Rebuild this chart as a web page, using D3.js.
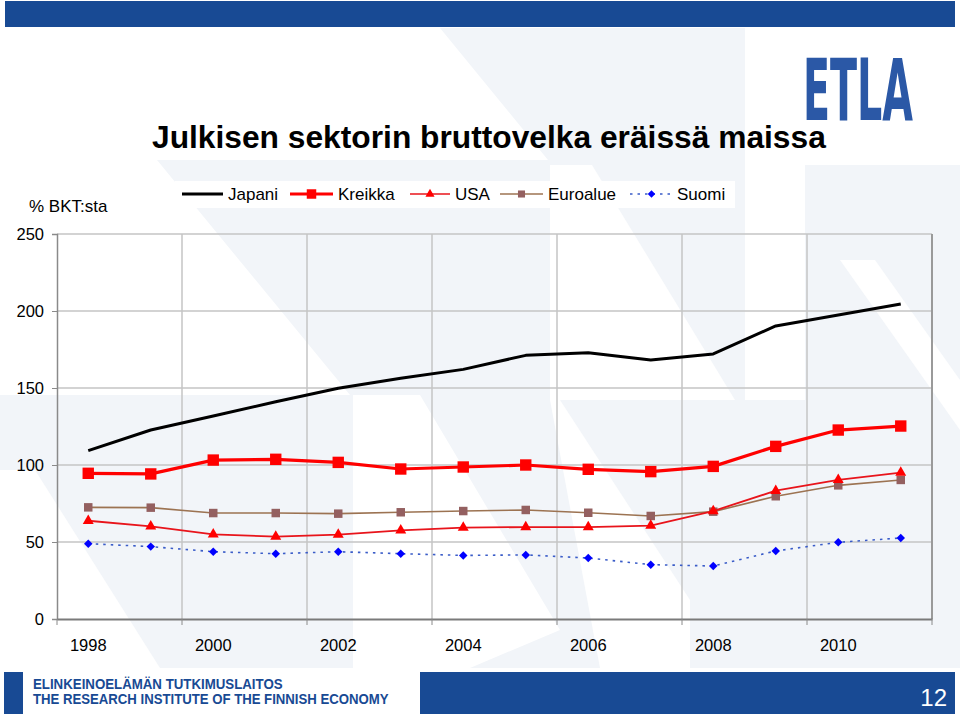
<!DOCTYPE html>
<html><head><meta charset="utf-8">
<script src="https://cdn.jsdelivr.net/npm/d3@7"></script>
<style>
html,body{margin:0;padding:0;background:#fff;}
svg{display:block;font-family:"Liberation Sans",Arial,sans-serif;}
</style></head>
<body>
<svg id="c" width="960" height="716"></svg>
<script>
const years = [1998,1999,2000,2001,2002,2003,2004,2005,2006,2007,2008,2009,2010,2011];
const tickYears = [1998,2000,2002,2004,2006,2008,2010];
const yTicks = [0,50,100,150,200,250];
const japani   = [109.3,122.7,131.8,141.1,149.8,156.3,162.1,171.2,172.9,168.2,172.1,190.3,197.4,204.5];
const kreikka  = [94.6,94.2,103.2,103.7,101.7,97.4,98.7,100.0,97.2,95.7,99.1,112.1,122.7,125.3];
const usa      = [63.8,60.2,55.0,53.5,54.8,57.6,59.3,59.7,59.7,60.6,70.1,83.3,90.3,95.0];
const euroalue = [72.5,72.3,68.8,68.8,68.4,69.3,70.1,70.8,69.0,66.9,69.7,79.7,86.8,90.3];
const suomi    = [48.9,47.0,43.7,42.4,43.7,42.4,41.3,41.6,39.6,35.3,34.4,44.2,49.8,52.6];
const seriesNames = ["Japani","Kreikka","USA","Euroalue","Suomi"];
const title = "Julkisen sektorin bruttovelka eräissä maissa";
const yLabel = "% BKT:sta";
const footer1 = "ELINKEINOELÄMÄN TUTKIMUSLAITOS";
const footer2 = "THE RESEARCH INSTITUTE OF THE FINNISH ECONOMY";
const pageNo = "12";
const logoText = "ETLA";

const svg = d3.select("#c");
const blue = "#184a94";

// helper: fit text to a target width by scaling its font-size
function fitText(sel, target){
  const fs = +sel.attr("font-size");
  const w = sel.node().getComputedTextLength();
  sel.attr("font-size", (fs*target/w).toFixed(2));
}
// helper: horizontally squeeze a text to width keeping height
function squeezeText(sel, target){
  const w = sel.node().getComputedTextLength();
  const x0 = +sel.attr("x");
  const s = target/w;
  sel.attr("transform",`translate(${x0},0) scale(${s},1) translate(${-x0},0)`);
}

// background
svg.append("rect").attr("width",960).attr("height",716).attr("fill","#ffffff");
const pale = "#f2f5f9";
svg.append("rect").attr("x",0).attr("y",28).attr("width",960).attr("height",640).attr("fill",pale);
const whitePolys = [
  [[0,28],[440,28],[548,160],[157,160],[350,395],[0,395]],
  [[745,28],[960,28],[960,165],[745,165]],
  [[550,165],[592,165],[735,400],[550,400]],
  [[745,165],[805,165],[805,400],[745,400]],
  [[840,260],[875,260],[960,380],[960,430]],
  [[0,470],[35,470],[160,668],[0,668]],
  [[353,395],[420,395],[560,630],[470,668],[353,668]],
  [[550,400],[560,400],[690,600],[690,668],[600,668]]
];
svg.append("g").selectAll("polygon").data(whitePolys).join("polygon")
  .attr("points",d=>d.map(p=>p.join(",")).join(" ")).attr("fill","#ffffff");

// top band
svg.append("rect").attr("x",5).attr("y",1).attr("width",950).attr("height",26).attr("fill",blue);

// logo
const logo = svg.append("text").attr("x",803).attr("y",120).attr("font-size",86).attr("font-weight","bold")
  .attr("fill","#2b58a6")
  .attr("font-family","'Liberation Sans Narrow','DejaVu Sans Condensed','Liberation Sans',sans-serif")
  .text(logoText);
squeezeText(logo, 110);

// title
const tt = svg.append("text").attr("x",152).attr("y",148).attr("font-size",30).attr("font-weight","bold")
  .attr("fill","#000").text(title);
fitText(tt, 674);

// scales
const x = d3.scaleBand().domain(years).range([57,932]).padding(0);
const cx = d => x(d) + x.bandwidth()/2;
const y = d3.scaleLinear().domain([0,250]).range([619,234]);

// gridlines
const g = svg.append("g");
g.selectAll("line.hg").data(yTicks.filter(v=>v>0)).join("line")
  .attr("x1",57).attr("x2",932).attr("y1",d=>y(d)).attr("y2",d=>y(d))
  .attr("stroke","#c4c4c4").attr("stroke-width",1.5);
g.selectAll("line.vg").data(tickYears.filter(v=>v>1998)).join("line")
  .attr("x1",d=>x(d)).attr("x2",d=>x(d)).attr("y1",234).attr("y2",619)
  .attr("stroke","#c4c4c4").attr("stroke-width",1.5);
g.append("line").attr("x1",932).attr("x2",932).attr("y1",234).attr("y2",619).attr("stroke","#9a9a9a").attr("stroke-width",2);

// axes
const yAxis = d3.axisLeft(y).tickValues(yTicks).tickSize(5).tickPadding(8);
const ya = svg.append("g").attr("transform","translate(57,0)").call(yAxis);
ya.select(".domain").attr("stroke","#8a8a8a").attr("stroke-width",1.5);
ya.selectAll(".tick line").attr("stroke","#8a8a8a");
ya.selectAll("text").attr("font-size",16.5).attr("fill","#000").attr("font-family","'Liberation Sans',Arial,sans-serif").attr("dy","0.35em");

const xAxis = d3.axisBottom(x).tickValues(tickYears).tickSize(0).tickPadding(20);
const xa = svg.append("g").attr("transform","translate(0,619)").call(xAxis);
xa.select(".domain").attr("stroke","#7a7a7a").attr("stroke-width",2);
xa.selectAll("text").attr("font-size",16.5).attr("fill","#000").attr("font-family","'Liberation Sans',Arial,sans-serif");
svg.append("g").selectAll("line").data(tickYears.concat([2012])).join("line")
  .attr("x1",d=>d===2012?932:x(d)).attr("x2",d=>d===2012?932:x(d))
  .attr("y1",619).attr("y2",625).attr("stroke","#8a8a8a").attr("stroke-width",1);

// y label
svg.append("text").attr("x",29).attr("y",212).attr("font-size",17).attr("fill","#000").text(yLabel);

// series
const sq = d3.symbolSquare;
const series = [
  {name:"Japani",   vals:japani,   line:"#000000", w:3,   dash:null, sym:null},
  {name:"Euroalue", vals:euroalue, line:"#9c7352", w:1.6, dash:null, sym:sq, size:72, rot:0, mfill:"#946060"},
  {name:"USA",      vals:usa,      line:"#e8141b", w:1.8, dash:null, sym:d3.symbolTriangle, size:52, rot:0, mfill:"#ff0000"},
  {name:"Suomi",    vals:suomi,    line:"#3a5cc8", w:1.6, dash:"2.5,5", sym:sq, size:36, rot:45, mfill:"#0000ff"},
  {name:"Kreikka",  vals:kreikka,  line:"#ff0000", w:3.2, dash:null, sym:sq, size:130, rot:0, mfill:"#ff0000"}
];
const lineGen = d3.line().x((d,i)=>cx(years[i])).y(d=>y(d));
series.forEach(s=>{
  const gg = svg.append("g");
  gg.append("path").attr("d",lineGen(s.vals)).attr("fill","none").attr("stroke",s.line)
    .attr("stroke-width",s.w).attr("stroke-dasharray",s.dash).attr("stroke-linejoin","round");
  if(s.sym){
    gg.selectAll("path.m").data(s.vals).join("path").attr("class","m")
      .attr("d",d3.symbol().type(s.sym).size(s.size))
      .attr("transform",(d,i)=>`translate(${cx(years[i])},${y(d)}) rotate(${s.rot})`)
      .attr("fill",s.mfill);
  }
});

// legend
const lg = svg.append("g");
lg.append("rect").attr("x",175).attr("y",181).attr("width",560).attr("height",27).attr("fill","#ffffff");
const legendSpec = [
  {x0:182,x1:223,tx:228, s:series[0], size:0},
  {x0:290,x1:333,tx:338, s:series[4], size:90},
  {x0:410,x1:450,tx:455, s:series[2], size:36},
  {x0:500,x1:543,tx:548, s:series[1], size:50},
  {x0:630,x1:673,tx:677, s:series[3], size:28}
];
const ly = 194;
legendSpec.forEach((l,i)=>{
  lg.append("line").attr("x1",l.x0).attr("x2",l.x1).attr("y1",ly).attr("y2",ly)
    .attr("stroke",l.s.line).attr("stroke-width",(l.s.name==="Japani"||l.s.name==="Kreikka")?3:1.6)
    .attr("stroke-dasharray",l.s.dash);
  if(l.s.sym){
    lg.append("path").attr("d",d3.symbol().type(l.s.sym).size(l.size)())
      .attr("transform",`translate(${(l.x0+l.x1)/2},${ly}) rotate(${l.s.rot})`).attr("fill",l.s.mfill);
  }
  lg.append("text").attr("x",l.tx).attr("y",ly+6).attr("font-size",17).attr("fill","#000").text(seriesNames[i]);
});

// footer
svg.append("rect").attr("x",4).attr("y",672).attr("width",19).attr("height",42).attr("fill",blue);
svg.append("rect").attr("x",420).attr("y",672).attr("width",535).attr("height",42).attr("fill",blue);
const f1 = svg.append("text").attr("x",33).attr("y",689).attr("font-size",14).attr("font-weight","bold").attr("fill",blue).text(footer1);
squeezeText(f1, 250);
const f2 = svg.append("text").attr("x",33).attr("y",704).attr("font-size",14).attr("font-weight","bold").attr("fill",blue).text(footer2);
squeezeText(f2, 356);
svg.append("text").attr("x",947).attr("y",706).attr("text-anchor","end").attr("font-size",24).attr("fill","#fff").text(pageNo);
</script>
</body></html>
